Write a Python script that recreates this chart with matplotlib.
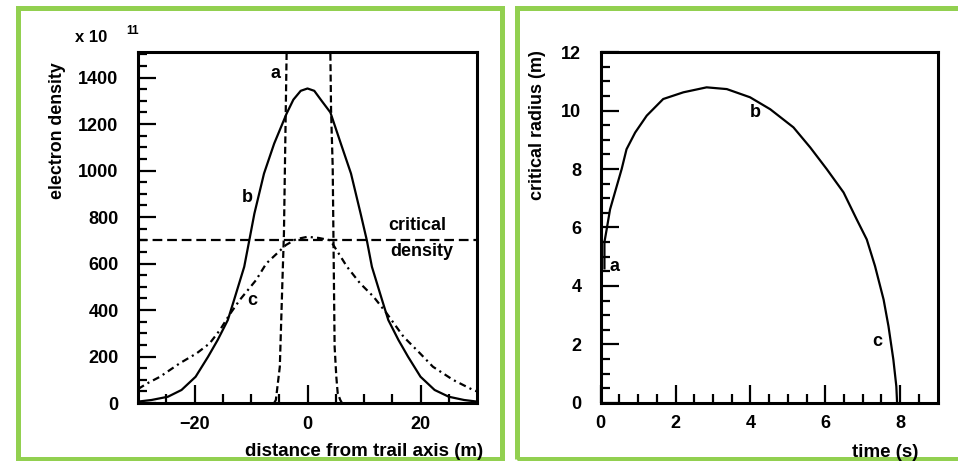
import matplotlib
matplotlib.use("Agg")
import matplotlib.pyplot as plt
from matplotlib.patches import Rectangle

plt.rcParams['font.family'] = ['Liberation Sans', 'DejaVu Sans']
plt.rcParams['font.weight'] = 'bold'
plt.rcParams['lines.scale_dashes'] = False

# electron density profiles across the trail (units of 1e11)
a_x = [-5.9, -5.6, -4.9, -4.45, -4.17, -3.7, -3.55, 3.9, 4.05, 4.17, 4.46, 4.8, 5.1, 5.34, 5.8, 6.1]
a_y = [0, 13, 156, 516, 730, 1500, 1600, 1600, 1500, 1260, 1016, 242, 113, 43, 13, 0]

b_x = [-30, -27.6, -24.7, -22.3, -19.8, -17.6, -15.9, -14.1, -13.0, -11.2, -10.3, -9.4, -7.7, -5.9,
       -3.7, -2.5, -1.2, 0, 1.2, 2.5, 4.05, 5.9, 7.7, 9.4, 10.5, 11.4, 13.2, 14.3, 16.1, 17.8, 20.0,
       22.5, 25.0, 27.7, 30]
b_y = [6, 13, 27, 56, 113, 199, 271, 357, 443, 586, 700, 815, 987, 1116,
       1245, 1305, 1343, 1353, 1343, 1300, 1250, 1116, 987, 815, 700, 586, 443, 357, 271, 199, 113,
       56, 27, 13, 6]

c_x = [-30, -28.4, -26.1, -22.6, -19.6, -17.3, -15.5, -13.8, -12.0, -9.1, -7.3, -3.8, -2, 0, 2,
       4.05, 7.0, 9.3, 11.7, 14.0, 17.0, 19.9, 22.2, 25.8, 29.3, 30]
c_y = [60, 84, 113, 171, 214, 257, 314, 380, 443, 529, 600, 680, 705, 715, 710,
       700, 586, 515, 457, 386, 285, 214, 156, 99, 56, 50]

critical_density = 700

# critical radius against time
t = [0.1, 0.1, 0.16, 0.25, 0.38, 0.56, 0.69, 0.92, 1.23, 1.67, 2.21, 2.83, 3.37, 3.99, 4.53,
     5.15, 5.6, 6.04, 6.49, 6.84, 7.11, 7.33, 7.56, 7.69, 7.82, 7.9, 7.92]
r = [4.6, 5.5, 5.94, 6.62, 7.2, 8.0, 8.68, 9.25, 9.83, 10.4, 10.63, 10.8, 10.74, 10.46, 10.05,
     9.43, 8.74, 8.0, 7.2, 6.28, 5.59, 4.68, 3.53, 2.62, 1.48, 0.56, 0]

W, H = 958, 461
fig = plt.figure(figsize=(W / 100, H / 100), dpi=100)


def px_axes(x0, y0, x1, y1):
    return fig.add_axes([x0 / W, 1 - y1 / H, (x1 - x0) / W, (y1 - y0) / H])


def style(ax):
    for s in ax.spines.values():
        s.set_linewidth(2.2)
    ax.tick_params(which='both', direction='in', top=False, right=False, width=1.6,
                   labelsize=13)
    ax.tick_params(which='major', length=13)
    ax.tick_params(which='minor', length=6.5)
    ax.tick_params(axis='y', pad=14)
    ax.tick_params(axis='x', pad=9)


green = '#92d050'
fig.patches.append(Rectangle((17.5 / W, 2 / H), 484.5 / W, 451 / H, transform=fig.transFigure,
                             fill=False, edgecolor=green, linewidth=3.6))
fig.patches.append(Rectangle((517 / W, 2 / H), 460 / W, 451 / H, transform=fig.transFigure,
                             fill=False, edgecolor=green, linewidth=3.6))

# left: density profiles
ax1 = px_axes(138, 52, 477, 403)
ax1.plot(a_x, a_y, color='k', lw=1.6, dashes=(5, 2.5))
ax1.plot(b_x, b_y, color='k', lw=1.6)
ax1.plot(c_x, c_y, color='k', lw=1.6, dashes=(5, 3, 1.5, 3))
ax1.axhline(critical_density, color='k', lw=1.6, dashes=(7, 3.5))
ax1.set_xlim(-30, 30)
ax1.set_ylim(0, 1510)
ax1.set_xticks([-20, 0, 20])
ax1.set_xticks(range(-25, 30, 5), minor=True)
ax1.set_yticks(range(0, 1401, 200))
ax1.set_yticks(range(0, 1501, 50), minor=True)
style(ax1)
ax1.text(-5.6, 1418, 'a', fontsize=13, ha='center', va='center')
ax1.text(-10.7, 886, 'b', fontsize=13, ha='center', va='center')
ax1.text(-9.7, 443, 'c', fontsize=13, ha='center', va='center')
ax1.text(19.5, 765, 'critical', fontsize=13, ha='center', va='center')
ax1.text(20.2, 650, 'density', fontsize=13, ha='center', va='center')

fig.text(75 / W, 1 - 42 / H, 'x 10', fontsize=12, ha='left', va='baseline')
fig.text(126 / W, 1 - 34 / H, '11', fontsize=8.5, ha='left', va='baseline')
fig.text(58 / W, 1 - 62 / H, 'electron density', fontsize=12.8, rotation=90, ha='center', va='top')
fig.text(483 / W, 1 - 451 / H, 'distance from trail axis (m)', fontsize=13.5, ha='right', va='center')

# right: critical radius
ax2 = px_axes(600.7, 52.3, 937.5, 402.7)
ax2.plot(t, r, color='k', lw=1.6)
ax2.set_xlim(0, 9)
ax2.set_ylim(0, 12)
ax2.set_xticks([0, 2, 4, 6, 8])
ax2.set_xticks([i * 0.5 for i in range(1, 18)], minor=True)
ax2.set_yticks(range(0, 13, 2))
ax2.set_yticks([i * 0.5 for i in range(1, 24)], minor=True)
style(ax2)
ax2.text(0.38, 4.68, 'a', fontsize=13, ha='center', va='center')
ax2.text(4.13, 9.94, 'b', fontsize=13, ha='center', va='center')
ax2.text(7.38, 2.1, 'c', fontsize=13, ha='center', va='center')

fig.text(537 / W, 1 - 50 / H, 'critical radius (m)', fontsize=13, rotation=90, ha='center', va='top')
fig.text(918 / W, 1 - 452 / H, 'time (s)', fontsize=13.5, ha='right', va='center')

fig.savefig('out.png', dpi=100)
